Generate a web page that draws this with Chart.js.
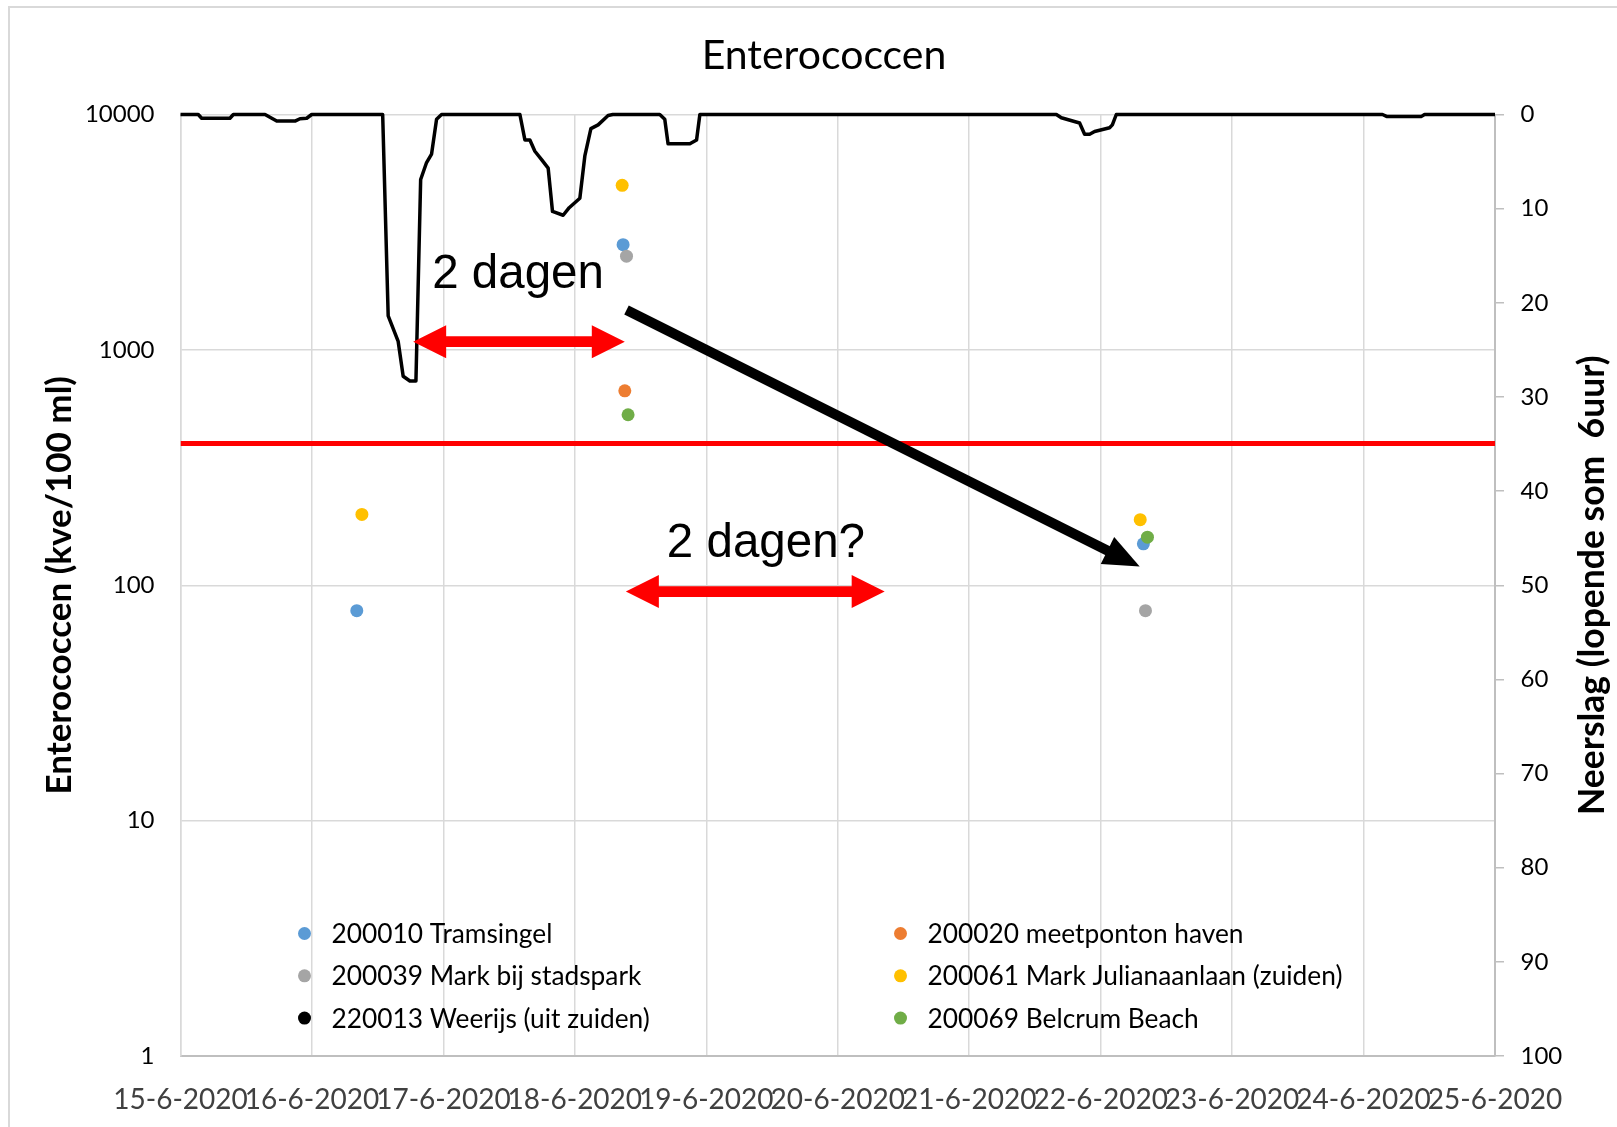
<!DOCTYPE html>
<html>
<head>
<meta charset="utf-8">
<script src="https://cdn.jsdelivr.net/npm/chart.js@4.4.1/dist/chart.umd.min.js"></script>
<style>
  html, body { margin: 0; padding: 0; background: #fff; }
  #wrap { position: relative; width: 1617px; height: 1127px; overflow: hidden; }
  #frame { position: absolute; left: 8px; top: 6px; width: 1700px; height: 1200px; border: 2px solid #d9d9d9; }
  canvas { position: absolute; left: 0; top: 0; }
</style>
</head>
<body>
<div id="wrap">
  <div id="frame"></div>
  <canvas id="chart" width="1617" height="1127"></canvas>
</div>
<script>
// x = dagen vanaf 15-6-2020 00:00
const dateLabels = ['15-6-2020', '16-6-2020', '17-6-2020', '18-6-2020', '19-6-2020', '20-6-2020',
    '21-6-2020', '22-6-2020', '23-6-2020', '24-6-2020', '25-6-2020'];
const yTickValues = [1, 10, 100, 1000, 10000];

// metingen enterococcen (kve/100 ml)
const tramsingelX = [1.341, 3.367, 7.325];
const tramsingelY = [78, 2800, 150];
const havenX = [3.380];
const havenY = [670];
const stadsparkX = [3.393, 7.341];
const stadsparkY = [2500, 78];
const julianaX = [1.380, 3.360, 7.301];
const julianaY = [200, 5000, 190];
const weerijsX = [];
const weerijsY = [];
const belcrumX = [3.405, 7.356];
const belcrumY = [530, 160];

// neerslag, lopende som 6 uur (mm)
const rainX = [0, 0.135, 0.161, 0.376, 0.402, 0.643, 0.732, 0.871, 0.909, 0.960, 0.998,
    1.538, 1.580, 1.656, 1.694, 1.745, 1.791, 1.827, 1.872, 1.910, 1.948, 1.986,
    2.582, 2.620, 2.658, 2.696, 2.747, 2.797, 2.830, 2.911, 2.957, 3.038, 3.076, 3.122, 3.177, 3.253, 3.289,
    3.646, 3.684, 3.709, 3.875, 3.926, 3.951,
    6.663, 6.701, 6.840, 6.878, 6.916, 6.954, 7.068, 7.089, 7.119,
    9.144, 9.175, 9.441, 9.464, 10];
const rainY = [0, 0, 0.4, 0.4, 0, 0, 0.7, 0.7, 0.45, 0.4, 0,
    0, 21.4, 24.1, 27.8, 28.3, 28.3, 6.9, 5.1, 4.2, 0.5, 0,
    0, 2.7, 2.7, 3.9, 4.8, 5.7, 10.3, 10.7, 9.9, 8.9, 4.4, 1.5, 1.1, 0.1, 0,
    0, 0.5, 3.1, 3.1, 2.7, 0,
    0, 0.35, 0.9, 2.1, 2.1, 1.8, 1.4, 1.1, 0,
    0, 0.2, 0.2, 0, 0];

// norm 400 kve/100 ml
const normX = [0, 10];
const normY = [400, 400];

// pijlen en teksten (x in dagen, y in kve/100 ml)
const redArrows = [[1.770, 3.380, 1083], [3.388, 5.357, 94]];
const blackArrow = [3.393, 1477, 7.297, 120];
const notes = [['2 dagen', 1.915, 1828], ['2 dagen?', 3.700, 131.5]];

const rightAxisTitle = 'Neerslag (lopende som  6uur)';

const pts = (xs, ys) => xs.map((x, i) => ({x: x, y: ys[i]}));

const dot = (label, xs, ys, color, order) => ({
    label: label,
    data: pts(xs, ys),
    backgroundColor: color,
    borderColor: color,
    pointRadius: 6.5,
    pointBorderWidth: 0,
    pointHoverRadius: 6.5,
    inLegend: true,
    order: order,
    yAxisID: 'y'
});

const annotations = {
    id: 'annotations',
    afterDatasetsDraw(chart) {
        const ctx = chart.ctx;
        const x = chart.scales.x, y = chart.scales.y;
        ctx.save();

        // rode dubbele pijlen
        ctx.fillStyle = '#ff0000';
        redArrows.forEach(([x1, x2, v]) => {
            const a = x.getPixelForValue(x1), b = x.getPixelForValue(x2), py = y.getPixelForValue(v);
            const hl = 33, hw = 16.5, sw = 5.4;
            ctx.beginPath();
            ctx.moveTo(a, py);
            ctx.lineTo(a + hl, py - hw);
            ctx.lineTo(a + hl, py - sw);
            ctx.lineTo(b - hl, py - sw);
            ctx.lineTo(b - hl, py - hw);
            ctx.lineTo(b, py);
            ctx.lineTo(b - hl, py + hw);
            ctx.lineTo(b - hl, py + sw);
            ctx.lineTo(a + hl, py + sw);
            ctx.lineTo(a + hl, py + hw);
            ctx.closePath();
            ctx.fill();
        });

        // zwarte pijl
        const sx = x.getPixelForValue(blackArrow[0]), sy = y.getPixelForValue(blackArrow[1]);
        const tx = x.getPixelForValue(blackArrow[2]), ty = y.getPixelForValue(blackArrow[3]);
        const len = Math.hypot(tx - sx, ty - sy);
        const ux = (tx - sx) / len, uy = (ty - sy) / len;
        const L = 36, W = 15;
        const bx = tx - ux * L, by = ty - uy * L;
        ctx.strokeStyle = '#000';
        ctx.lineWidth = 10;
        ctx.lineCap = 'butt';
        ctx.beginPath();
        ctx.moveTo(sx, sy);
        ctx.lineTo(bx + ux * 2, by + uy * 2);
        ctx.stroke();
        ctx.fillStyle = '#000';
        ctx.beginPath();
        ctx.moveTo(tx, ty);
        ctx.lineTo(bx - uy * W, by + ux * W);
        ctx.lineTo(bx + uy * W, by - ux * W);
        ctx.closePath();
        ctx.fill();

        // teksten
        ctx.font = '47.5px "Liberation Sans", Arial, sans-serif';
        ctx.textBaseline = 'alphabetic';
        ctx.textAlign = 'left';
        notes.forEach(([t, nx, ny]) => {
            ctx.fillText(t, x.getPixelForValue(nx), y.getPixelForValue(ny));
        });
        ctx.restore();
    }
};

const legendBox = {
    id: 'legendBox',
    afterDraw(chart) {
        const ctx = chart.ctx, a = chart.chartArea;
        const items = chart.data.datasets.filter(d => d.inLegend);
        ctx.save();
        ctx.font = '26.3px Lato';
        ctx.textBaseline = 'middle';
        ctx.textAlign = 'left';
        items.forEach((d, i) => {
            const col = i % 2, row = Math.floor(i / 2);
            const cx = a.left + 124 + col * 596;
            const cy = a.top + 819 + row * 42.3;
            ctx.fillStyle = d.backgroundColor;
            ctx.beginPath();
            ctx.arc(cx, cy, 6.5, 0, Math.PI * 2);
            ctx.fill();
            ctx.fillStyle = '#000';
            ctx.fillText(d.label, cx + 27, cy + 1);
        });
        ctx.restore();
    }
};

const rightTitle = {
    id: 'rightTitle',
    afterDraw(chart) {
        const ctx = chart.ctx, a = chart.chartArea, s = chart.scales.y2;
        ctx.save();
        ctx.translate(s.right - 24, (a.top + a.bottom) / 2);
        ctx.rotate(-Math.PI / 2);
        ctx.font = 'bold 35.5px Lato';
        ctx.textAlign = 'center';
        ctx.textBaseline = 'middle';
        ctx.fillStyle = '#000';
        ctx.fillText(rightAxisTitle, 0, 0);
        ctx.restore();
    }
};

new Chart(document.getElementById('chart'), {
    type: 'scatter',
    data: {
        datasets: [
            dot('200010 Tramsingel', tramsingelX, tramsingelY, '#5B9BD5', 6),
            dot('200020 meetponton haven', havenX, havenY, '#ED7D31', 5),
            dot('200039 Mark bij stadspark', stadsparkX, stadsparkY, '#A5A5A5', 4),
            dot('200061 Mark Julianaanlaan (zuiden)', julianaX, julianaY, '#FFC000', 3),
            dot('220013 Weerijs (uit zuiden)', weerijsX, weerijsY, '#000000', 2),
            dot('200069 Belcrum Beach', belcrumX, belcrumY, '#70AD47', 1),
            {
                label: 'Neerslag',
                data: pts(rainX, rainY),
                showLine: true,
                borderColor: '#000',
                backgroundColor: '#000',
                borderWidth: 3.5,
                borderJoinStyle: 'round',
                pointRadius: 0,
                tension: 0,
                clip: false,
                order: 7,
                yAxisID: 'y2'
            },
            {
                label: 'Norm',
                data: pts(normX, normY),
                showLine: true,
                borderColor: '#ff0000',
                backgroundColor: '#ff0000',
                borderWidth: 5,
                pointRadius: 0,
                order: 8,
                yAxisID: 'y'
            }
        ]
    },
    options: {
        responsive: false,
        animation: false,
        devicePixelRatio: 1,
        layout: { padding: { left: 31, right: 0, top: 0, bottom: 0 } },
        plugins: {
            legend: { display: false },
            tooltip: { enabled: false },
            title: {
                display: true,
                text: 'Enterococcen',
                color: '#000',
                font: { family: 'Lato', size: 41, weight: 'normal', lineHeight: 1.2 },
                padding: { top: 31.5, bottom: 33.8 }
            }
        },
        scales: {
            x: {
                type: 'linear',
                min: 0,
                max: 10,
                afterBuildTicks: s => { s.ticks = dateLabels.map((_, i) => ({ value: i })); },
                afterFit: s => { s.height = 71; },
                ticks: {
                    autoSkip: false,
                    maxRotation: 0,
                    minRotation: 0,
                    padding: 27,
                    color: '#404040',
                    font: { family: 'Lato', size: 28, lineHeight: 1.2 },
                    callback: v => dateLabels[v]
                },
                grid: { color: '#d9d9d9', lineWidth: 1.5, drawTicks: false },
                border: { color: '#bfbfbf', width: 2 }
            },
            y: {
                type: 'logarithmic',
                position: 'left',
                min: 1,
                max: 10000,
                afterBuildTicks: s => { s.ticks = yTickValues.map(v => ({ value: v })); },
                afterFit: s => { s.width = 149.5; },
                ticks: {
                    padding: 26,
                    color: '#000',
                    font: { family: 'Lato', size: 24, lineHeight: 1.2 },
                    callback: v => String(v)
                },
                grid: { color: '#d9d9d9', lineWidth: 1.5, drawTicks: false },
                border: { color: '#d9d9d9', width: 1.5 },
                title: {
                    display: true,
                    text: 'Enterococcen (kve/100 ml)',
                    color: '#000',
                    font: { family: 'Lato', size: 35, weight: 'bold', lineHeight: 1.2 },
                    padding: { top: 8, bottom: 0 }
                }
            },
            y2: {
                type: 'linear',
                position: 'right',
                min: 0,
                max: 100,
                reverse: true,
                afterFit: s => { s.width = 122; },
                ticks: {
                    stepSize: 10,
                    padding: 16.5,
                    color: '#000',
                    font: { family: 'Lato', size: 24, lineHeight: 1.2 }
                },
                grid: { drawOnChartArea: false, drawTicks: true, tickLength: 9, color: '#bfbfbf', lineWidth: 1.5 },
                border: { color: '#bfbfbf', width: 2 }
            }
        }
    },
    plugins: [annotations, legendBox, rightTitle]
});
</script>
</body>
</html>
